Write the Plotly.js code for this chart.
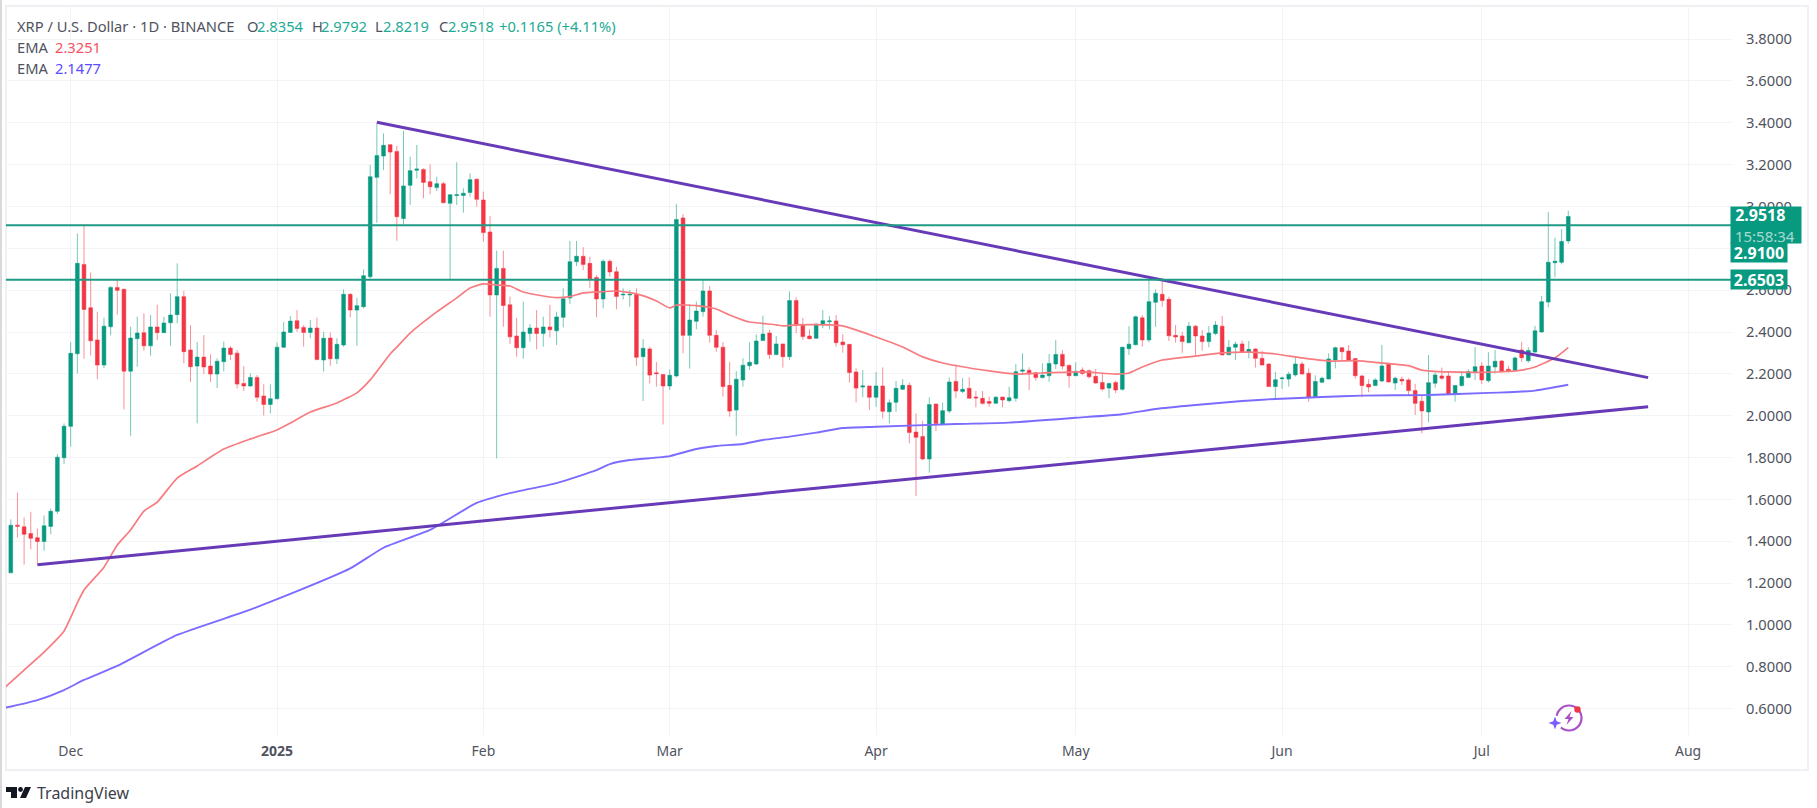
<!DOCTYPE html>
<html><head><meta charset="utf-8">
<script src="https://cdn.plot.ly/plotly-3.0.1.min.js"></script>
<style>html,body{margin:0;padding:0;background:#fff}#c{width:1817px;height:808px}</style>
</head><body><div id="c"></div>
<script>
const calendar=[["2024-11",22,30],["2024-12",1,31],["2025-01",1,31],["2025-02",1,28],["2025-03",1,31],["2025-04",1,30],["2025-05",1,31],["2025-06",1,30],["2025-07",1,14]];
const opens=[1.249,1.477,1.469,1.437,1.417,1.399,1.471,1.543,1.799,1.949,
2.296,2.723,2.516,2.362,2.242,2.425,2.613,2.604,2.213,2.368,
2.397,2.334,2.424,2.397,2.444,2.483,2.569,2.314,2.237,2.280,
2.237,2.199,2.258,2.323,2.299,2.154,2.142,2.183,2.094,2.054,
2.081,2.327,2.398,2.454,2.422,2.398,2.419,2.266,2.371,2.272,
2.338,2.580,2.505,2.521,2.664,3.139,3.241,3.295,3.263,2.942,
3.101,3.173,3.177,3.118,3.090,3.109,3.015,3.052,3.052,3.067,
3.130,3.031,2.878,2.577,2.704,2.530,2.381,2.325,2.393,2.419,
2.393,2.424,2.406,2.470,2.562,2.736,2.762,2.728,2.661,2.558,
2.738,2.688,2.577,2.577,2.580,2.282,2.319,2.205,2.197,2.142,
2.190,2.945,2.384,2.451,2.497,2.596,2.384,2.327,2.145,2.027,
2.171,2.239,2.247,2.359,2.395,2.292,2.343,2.282,2.550,2.432,
2.381,2.370,2.435,2.449,2.453,2.352,2.341,2.209,2.137,2.142,
2.088,2.142,2.019,2.064,2.126,2.145,1.922,1.900,1.793,2.056,
1.960,2.022,2.164,2.116,2.131,2.089,2.083,2.068,2.059,2.089,
2.072,2.083,2.213,2.217,2.205,2.182,2.191,2.247,2.293,2.240,
2.191,2.218,2.215,2.188,2.159,2.132,2.159,2.126,2.320,2.339,
2.468,2.362,2.542,2.580,2.556,2.384,2.381,2.349,2.428,2.381,
2.354,2.393,2.428,2.291,2.327,2.343,2.303,2.319,2.274,2.247,
2.139,2.177,2.175,2.195,2.247,2.203,2.091,2.160,2.175,2.266,
2.325,2.309,2.273,2.190,2.150,2.144,2.166,2.247,2.156,2.174,
2.171,2.120,2.069,2.018,2.155,2.190,2.190,2.104,2.144,2.183,
2.207,2.237,2.167,2.233,2.261,2.222,2.217,2.314,2.263,2.304,
2.400,2.543,2.731,2.733,2.8354];
const highs=[1.504,1.633,1.514,1.541,1.461,1.523,1.557,1.817,1.963,2.352,
2.871,2.913,2.685,2.497,2.468,2.620,2.652,2.607,2.425,2.473,
2.489,2.481,2.530,2.473,2.585,2.728,2.596,2.433,2.352,2.385,
2.293,2.274,2.354,2.333,2.314,2.237,2.202,2.194,2.150,2.150,
2.350,2.448,2.476,2.505,2.433,2.457,2.468,2.401,2.397,2.370,
2.604,2.585,2.564,2.699,3.198,3.397,3.349,3.297,3.290,3.362,
3.238,3.294,3.182,3.201,3.142,3.118,3.059,3.211,3.087,3.158,
3.134,3.071,2.954,2.789,2.789,2.569,2.468,2.545,2.438,2.505,
2.473,2.530,2.497,2.609,2.835,2.835,2.805,2.760,2.671,2.747,
2.747,2.712,2.609,2.601,2.609,2.366,2.330,2.256,2.199,2.221,
3.012,2.964,2.534,2.545,2.648,2.620,2.409,2.352,2.258,2.213,
2.274,2.351,2.389,2.478,2.410,2.381,2.343,2.594,2.566,2.467,
2.413,2.441,2.505,2.476,2.481,2.390,2.341,2.226,2.218,2.142,
2.209,2.231,2.078,2.166,2.175,2.158,2.011,1.975,2.088,2.056,
2.062,2.183,2.245,2.179,2.183,2.118,2.118,2.091,2.094,2.091,
2.139,2.247,2.298,2.231,2.210,2.250,2.295,2.362,2.314,2.247,
2.255,2.231,2.221,2.223,2.202,2.159,2.167,2.330,2.428,2.478,
2.481,2.653,2.604,2.648,2.569,2.433,2.401,2.449,2.433,2.409,
2.428,2.452,2.476,2.362,2.354,2.359,2.357,2.322,2.311,2.250,
2.210,2.187,2.210,2.285,2.258,2.226,2.193,2.187,2.298,2.330,
2.327,2.338,2.274,2.195,2.174,2.179,2.338,2.255,2.187,2.187,
2.179,2.152,2.094,2.290,2.207,2.230,2.210,2.147,2.210,2.222,
2.327,2.255,2.303,2.314,2.266,2.239,2.282,2.354,2.327,2.429,
2.572,2.974,2.851,2.892,2.9792];
const lows=[1.249,1.418,1.288,1.361,1.291,1.355,1.433,1.530,1.769,1.852,
2.202,2.272,2.287,2.175,2.228,2.385,2.483,2.030,1.904,2.234,
2.311,2.287,2.362,2.397,2.334,2.441,2.250,2.161,1.963,2.199,
2.161,2.132,2.212,2.266,2.131,2.118,2.139,2.067,2.001,2.011,
2.078,2.323,2.397,2.401,2.330,2.370,2.266,2.210,2.239,2.247,
2.330,2.470,2.334,2.513,2.656,2.922,3.174,3.058,2.836,2.916,
3.008,3.134,3.039,3.058,3.074,3.015,2.652,3.007,2.970,3.047,
2.999,2.832,2.473,1.796,2.425,2.342,2.282,2.272,2.354,2.317,
2.330,2.374,2.338,2.422,2.534,2.715,2.696,2.609,2.470,2.513,
2.664,2.508,2.556,2.521,2.239,2.070,2.154,2.139,1.958,2.123,
2.183,2.298,2.225,2.413,2.473,2.349,2.306,2.091,1.995,1.904,
2.139,2.218,2.242,2.359,2.271,2.288,2.230,2.266,2.394,2.362,
2.365,2.368,2.418,2.413,2.330,2.301,2.158,2.064,2.088,2.027,
2.043,1.987,1.963,2.019,2.123,1.868,1.616,1.788,1.728,1.927,
1.957,2.011,2.083,2.107,2.083,2.040,2.052,2.043,2.059,2.040,
2.064,2.067,2.194,2.123,2.167,2.178,2.162,2.223,2.221,2.134,
2.191,2.194,2.178,2.154,2.119,2.083,2.107,2.119,2.290,2.336,
2.330,2.350,2.425,2.521,2.357,2.349,2.301,2.346,2.287,2.311,
2.327,2.385,2.290,2.290,2.266,2.301,2.274,2.230,2.242,2.139,
2.083,2.128,2.139,2.187,2.198,2.066,2.088,2.155,2.175,2.226,
2.266,2.263,2.177,2.088,2.112,2.142,2.160,2.160,2.123,2.147,
2.094,2.003,1.916,1.968,2.134,2.171,2.099,2.067,2.139,2.183,
2.171,2.151,2.158,2.202,2.206,2.207,2.214,2.258,2.253,2.301,
2.398,2.518,2.661,2.723,2.8219];
const closes=[1.476,1.472,1.433,1.414,1.399,1.474,1.543,1.802,1.950,2.298,
2.728,2.508,2.358,2.242,2.428,2.613,2.599,2.213,2.371,2.395,
2.334,2.424,2.397,2.443,2.481,2.569,2.306,2.234,2.280,2.233,
2.199,2.260,2.323,2.293,2.151,2.142,2.183,2.088,2.054,2.081,
2.327,2.400,2.452,2.417,2.398,2.419,2.268,2.370,2.272,2.341,
2.580,2.505,2.526,2.669,3.142,3.243,3.292,3.260,2.951,3.098,
3.171,3.179,3.115,3.094,3.109,3.018,3.056,3.056,3.063,3.128,
3.034,2.875,2.577,2.704,2.527,2.377,2.325,2.400,2.419,2.393,
2.424,2.411,2.472,2.559,2.736,2.762,2.723,2.655,2.558,2.738,
2.687,2.570,2.580,2.580,2.279,2.322,2.194,2.201,2.142,2.193,
2.938,2.384,2.457,2.500,2.596,2.384,2.327,2.139,2.022,2.174,
2.241,2.255,2.357,2.390,2.292,2.343,2.282,2.550,2.432,2.378,
2.368,2.438,2.454,2.453,2.349,2.339,2.206,2.132,2.142,2.088,
2.142,2.021,2.062,2.131,2.145,1.920,1.897,1.793,2.053,1.963,
2.024,2.161,2.118,2.126,2.083,2.085,2.059,2.059,2.088,2.075,
2.086,2.210,2.218,2.199,2.182,2.194,2.250,2.293,2.237,2.191,
2.212,2.202,2.186,2.156,2.127,2.154,2.123,2.327,2.342,2.473,
2.362,2.545,2.585,2.550,2.382,2.376,2.354,2.428,2.381,2.354,
2.395,2.433,2.290,2.327,2.342,2.303,2.317,2.274,2.242,2.139,
2.172,2.180,2.198,2.247,2.199,2.088,2.164,2.179,2.271,2.325,
2.306,2.265,2.191,2.144,2.137,2.171,2.238,2.161,2.179,2.166,
2.120,2.059,2.023,2.158,2.195,2.179,2.102,2.144,2.187,2.211,
2.234,2.171,2.237,2.260,2.212,2.214,2.276,2.277,2.312,2.406,
2.545,2.733,2.738,2.833,2.9518];
const emaFastDates=["2024-11-21","2024-11-24","2024-11-27","2024-11-30","2024-12-02","2024-12-03","2024-12-06","2024-12-08","2024-12-10","2024-12-12","2024-12-14","2024-12-17","2024-12-20","2024-12-24","2024-12-28","2025-01-01","2025-01-03","2025-01-06","2025-01-10","2025-01-13","2025-01-15","2025-01-18","2025-01-19","2025-01-21","2025-01-25","2025-01-28","2025-01-30","2025-02-01","2025-02-03","2025-02-05","2025-02-07","2025-02-10","2025-02-12","2025-02-14","2025-02-16","2025-02-18","2025-02-21","2025-02-24","2025-02-27","2025-03-01","2025-03-02","2025-03-05","2025-03-08","2025-03-10","2025-03-12","2025-03-13","2025-03-17","2025-03-18","2025-03-20","2025-03-25","2025-03-27","2025-04-01","2025-04-05","2025-04-08","2025-04-11","2025-04-18","2025-04-22","2025-04-26","2025-05-02","2025-05-07","2025-05-09","2025-05-11","2025-05-14","2025-05-19","2025-05-23","2025-05-27","2025-05-31","2025-06-04","2025-06-08","2025-06-12","2025-06-16","2025-06-20","2025-06-22","2025-06-26","2025-06-30","2025-07-04","2025-07-07","2025-07-09","2025-07-12","2025-07-14"];
const emaFast=[0.698,0.784,0.870,0.971,1.105,1.167,1.276,1.382,1.454,1.544,1.587,1.702,1.760,1.841,1.889,1.932,1.965,2.018,2.061,2.109,2.171,2.295,2.328,2.395,2.496,2.563,2.610,2.630,2.625,2.620,2.591,2.572,2.564,2.569,2.587,2.591,2.596,2.582,2.548,2.515,2.529,2.526,2.510,2.481,2.457,2.448,2.434,2.429,2.434,2.434,2.429,2.376,2.328,2.281,2.252,2.214,2.199,2.204,2.209,2.199,2.204,2.233,2.266,2.285,2.300,2.304,2.295,2.276,2.261,2.263,2.252,2.239,2.218,2.209,2.207,2.210,2.218,2.233,2.276,2.3251];
const emaSlowDates=["2024-11-21","2024-11-26","2024-11-30","2024-12-03","2024-12-08","2024-12-17","2024-12-27","2025-01-03","2025-01-12","2025-01-17","2025-01-24","2025-01-31","2025-02-05","2025-02-12","2025-02-18","2025-02-20","2025-02-23","2025-03-01","2025-03-05","2025-03-08","2025-03-12","2025-03-15","2025-03-19","2025-03-23","2025-03-27","2025-04-01","2025-04-13","2025-04-21","2025-05-01","2025-05-08","2025-05-13","2025-05-19","2025-05-26","2025-05-31","2025-06-07","2025-06-13","2025-06-23","2025-07-02","2025-07-05","2025-07-09","2025-07-14"];
const emaSlow=[0.603,0.641,0.689,0.737,0.804,0.952,1.062,1.148,1.270,1.369,1.454,1.583,1.630,1.678,1.740,1.769,1.788,1.807,1.841,1.855,1.865,1.884,1.900,1.919,1.941,1.947,1.960,1.967,1.990,2.007,2.032,2.051,2.070,2.080,2.089,2.096,2.099,2.109,2.112,2.120,2.1477];
const upperTrendDates=["2025-01-16","2025-07-26"];
const upperTrend=[3.402,2.182];
const lowerTrendDates=["2024-11-26","2025-07-26"];
const lowerTrend=[1.288,2.043];
const hLevels=[2.91,2.6503];
const priceTicks=[0.6,0.8,1.0,1.2,1.4,1.6,1.8,2.0,2.2,2.4,2.6,2.8,3.0,3.2,3.4,3.6,3.8];
const priceLabels=["0.6000","0.8000","1.0000","1.2000","1.4000","1.6000","1.8000","2.0000","2.2000","2.4000","2.6000","","3.0000","3.2000","3.4000","3.6000","3.8000"];
const monthTicks=["2024-12-01","2025-01-01","2025-02-01","2025-03-01","2025-04-01","2025-05-01","2025-06-01","2025-07-01","2025-08-01"];
const monthLabels=["Dec","<b>2025</b>","Feb","Mar","Apr","May","Jun","Jul","Aug"];

const dates=[];
calendar.forEach(([m,a,b])=>{for(let d=a;d<=b;d++)dates.push(m+"-"+String(d).padStart(2,"0"));});

const GREEN="#089981",RED="#f23645",TXT="#50535e",FONT="'Noto Sans', sans-serif";
const L=6,R=1732,T=6,B=735;
const W=R-L,H=B-T;
const px=x=>(x-L)/W, py=y=>(B-y)/H;
const poly=pts=>"M"+pts.map(p=>px(p[0])+","+py(p[1])).join("L")+"Z";

const traces=[
 {type:"candlestick",x:dates,open:opens,high:highs,low:lows,close:closes,whiskerwidth:0,
  increasing:{line:{color:"rgba(8,153,129,0.55)",width:1},fillcolor:GREEN},
  decreasing:{line:{color:"rgba(242,54,69,0.55)",width:1},fillcolor:RED},hoverinfo:"skip"},
 {type:"scatter",mode:"lines",x:emaFastDates,y:emaFast,line:{color:"#f77c80",width:1.7,shape:"spline",smoothing:0.5},hoverinfo:"skip"},
 {type:"scatter",mode:"lines",x:emaSlowDates,y:emaSlow,line:{color:"#7b6cff",width:1.9,shape:"spline",smoothing:0.5},hoverinfo:"skip"},
 {type:"scatter",mode:"lines",x:upperTrendDates,y:upperTrend,line:{color:"#673ab7",width:3},hoverinfo:"skip"},
 {type:"scatter",mode:"lines",x:lowerTrendDates,y:lowerTrend,line:{color:"#673ab7",width:3},hoverinfo:"skip"}
];

const legendRow=(x,y,text,color)=>({xref:"paper",yref:"paper",x:px(x),y:py(y),xanchor:"left",yanchor:"middle",showarrow:false,text:text,font:{family:FONT,size:14.7,color:color}});
const UP="#22ab94";
const annotations=[
 legendRow(15,26,"XRP / U.S. Dollar · 1D · BINANCE",TXT),
 legendRow(245,26,"O",TXT),legendRow(255,26,"2.8354",UP),
 legendRow(310,26,"H",TXT),legendRow(319,26,"2.9792",UP),
 legendRow(373,26,"L",TXT),legendRow(381,26,"2.8219",UP),
 legendRow(437,26,"C",TXT),legendRow(446,26,"2.9518",UP),
 legendRow(497,26,"+0.1165 (+4.11%)",UP),
 legendRow(15,47,"EMA",TXT),legendRow(53,47,"2.3251","#f7525f"),
 legendRow(15,68,"EMA",TXT),legendRow(53,68,"2.1477","#5b4dff"),
 {xref:"paper",yref:"y",x:px(1730),y:2.9518,yshift:-8,xanchor:"left",yanchor:"middle",showarrow:false,align:"left",
  text:"<b>&nbsp;2.9518</b><br><span style='color:rgba(255,255,255,0.65);font-size:15px'>&nbsp;15:58:34</span>",
  font:{family:FONT,size:16,color:"#fff"},bgcolor:GREEN,width:70,height:36,borderpad:0},
 {xref:"paper",yref:"y",x:px(1730),y:hLevels[0],yshift:-27,xanchor:"left",yanchor:"middle",showarrow:false,
  text:"<b>2.9100</b>",font:{family:FONT,size:16,color:"#fff"},bgcolor:GREEN,width:56,height:19,borderpad:0},
 {xref:"paper",yref:"y",x:px(1730),y:hLevels[1],xanchor:"left",yanchor:"middle",showarrow:false,
  text:"<b>2.6503</b>",font:{family:FONT,size:16,color:"#fff"},bgcolor:GREEN,width:56,height:19,borderpad:0},
 {xref:"paper",yref:"paper",x:px(35),y:py(793),xanchor:"left",yanchor:"middle",showarrow:false,text:"TradingView",font:{family:FONT,size:16,color:"#3b3f4a"}}
];

const circle=(cx,cy,r,o)=>Object.assign({type:"circle",xref:"paper",yref:"paper",x0:px(cx-r),x1:px(cx+r),y0:py(cy+r),y1:py(cy-r)},o);
const shapes=[
 ...hLevels.map(v=>({type:"line",xref:"paper",yref:"y",x0:0,x1:px(1739),y0:v,y1:v,line:{color:"#1f9a85",width:2}})),
 {type:"rect",xref:"paper",yref:"paper",x0:px(6),x1:px(1808),y0:py(770),y1:py(6),line:{color:"#eef0f3",width:2},layer:"below"},
 {type:"rect",xref:"paper",yref:"paper",x0:px(0),x1:px(2),y0:py(808),y1:py(0),fillcolor:"#d9d9d9",line:{width:0}},
 {type:"path",xref:"paper",yref:"paper",path:poly([[6,787],[17,787],[17,798],[11,798],[11,792],[6,792]]),fillcolor:"#131722",line:{width:0}},
 circle(20.5,789.5,2.4,{fillcolor:"#131722",line:{width:0}}),
 {type:"path",xref:"paper",yref:"paper",path:poly([[25,787],[31,787],[26,798],[20,798]]),fillcolor:"#131722",line:{width:0}},
 circle(1569,718,12.5,{line:{color:"#a94fc8",width:2.2}}),
 circle(1555,723,7.5,{fillcolor:"#ffffff",line:{width:0}}),
 {type:"path",xref:"paper",yref:"paper",path:poly([[1555,716.5],[1556.7,721.3],[1561.5,723],[1556.7,724.7],[1555,729.5],[1553.3,724.7],[1548.5,723],[1553.3,721.3]]),fillcolor:"#7a5cff",line:{width:0}},
 {type:"path",xref:"paper",yref:"paper",path:poly([[1571.5,711],[1564.5,719],[1568.5,719],[1566.5,725],[1573.5,717],[1569.5,717]]),fillcolor:"#a94fc8",line:{width:0}},
 circle(1577.5,709.5,3.2,{fillcolor:"#f23645",line:{width:0}})
];

const layout={
 width:1817,height:808,margin:{l:L,r:1817-R,t:T,b:808-B,pad:0},
 paper_bgcolor:"#fff",plot_bgcolor:"#fff",showlegend:false,boxgap:0.2,hovermode:false,
 xaxis:{type:"date",range:["2024-11-21 06:43","2025-08-07 14:24"],rangeslider:{visible:false},
  tickmode:"array",tickvals:monthTicks,ticktext:monthLabels,showgrid:true,gridcolor:"#f3f4f6",gridwidth:1,
  zeroline:false,showline:false,ticks:"",ticklabelstandoff:6,tickfont:{family:FONT,size:14,color:TXT}},
 yaxis:{side:"right",range:[0.474,3.958],tickmode:"array",tickvals:priceTicks,ticktext:priceLabels,
  showgrid:true,gridcolor:"#f3f4f6",gridwidth:1,zeroline:false,showline:false,ticks:"",ticklabelstandoff:13,
  tickfont:{family:FONT,size:14.7,color:TXT}},
 annotations:annotations,shapes:shapes
};
Plotly.newPlot("c",traces,layout,{displayModeBar:false,staticPlot:true});
</script></body></html>
